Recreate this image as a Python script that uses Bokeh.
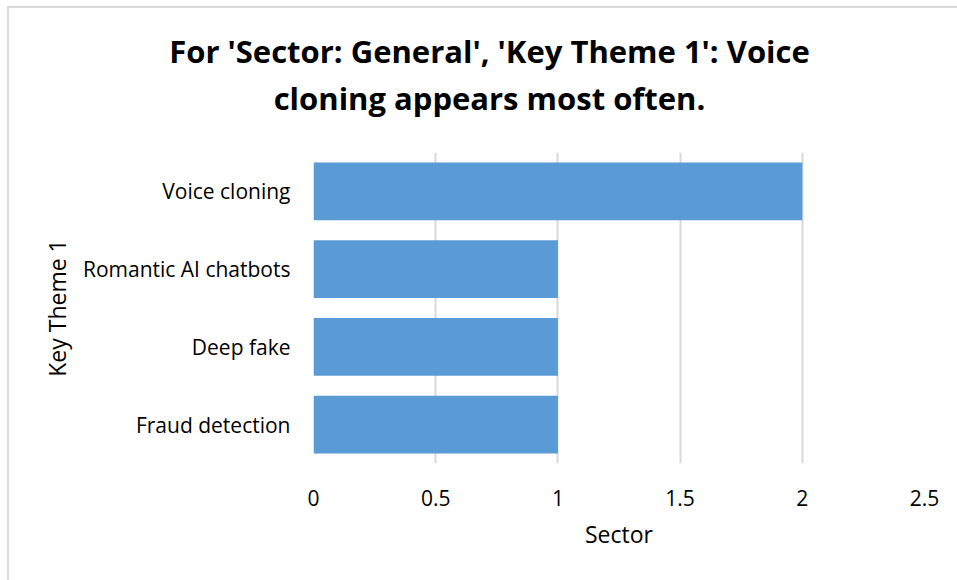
from bokeh.plotting import figure
from bokeh.layouts import column
from bokeh.models import Label, FactorRange, Range1d, FixedTicker, NumeralTickFormatter
from bokeh.embed import file_html
from bokeh.resources import INLINE

# ---- data ----
themes = ["Fraud detection", "Deep fake", "Romantic AI chatbots", "Voice cloning"]
counts = [1, 1, 1, 2]
x_ticks = [0, 0.5, 1, 1.5, 2, 2.5]
title_lines = ["For 'Sector: General', 'Key Theme 1': Voice", "cloning appears most often."]
x_title = "Sector"
y_title = "Key Theme 1"

FONT = "Open Sans"
BAR = "#5B9BD5"
GRID = "#d9d9d9"
TXT = "#000000"

W = 948
TH = 136
H = 572 - TH

# ---- title strip ----
t = figure(width=W, height=TH, output_backend="svg", toolbar_location=None,
           x_range=Range1d(0, W), y_range=Range1d(TH, 0),
           x_axis_location=None, y_axis_location=None,
           min_border=0, min_border_left=0, min_border_right=0,
           min_border_top=0, min_border_bottom=0)
t.frame_align = False
t.outline_line_color = None
t.xgrid.visible = False
t.ygrid.visible = False
for line, sy in zip(title_lines, [42, 89]):
    t.add_layout(Label(x=480, y=sy, text=line, text_font=FONT, text_font_size="31px",
                       text_font_style="bold", text_align="center",
                       text_baseline="middle", text_color=TXT))

# ---- chart ----
p = figure(width=W, height=H, output_backend="svg", toolbar_location=None,
           y_range=FactorRange(factors=themes, range_padding=0),
           x_range=Range1d(0, 2.5),
           min_border_left=304, min_border_right=33, min_border_top=8, min_border_bottom=117)
p.frame_align = False

p.hbar(y=themes, right=counts, left=0, height=0.74, color=BAR, line_color=None)

p.outline_line_color = None
p.background_fill_color = "white"
p.border_fill_color = "white"

p.xaxis.ticker = FixedTicker(ticks=x_ticks)
p.xaxis.formatter = NumeralTickFormatter(format="0.[0]")
for ax in (p.xaxis[0], p.yaxis[0]):
    ax.axis_line_color = None
    ax.major_tick_line_color = None
    ax.minor_tick_line_color = None
    ax.major_label_text_font = FONT
    ax.major_label_text_font_size = "21px"
    ax.major_label_text_color = TXT
    ax.axis_label_text_font = FONT
    ax.axis_label_text_font_size = "23px"
    ax.axis_label_text_font_style = "normal"
    ax.axis_label_text_color = TXT
p.xaxis.axis_label = x_title
p.yaxis.axis_label = y_title
p.xaxis.major_label_standoff = 20
p.xaxis.axis_label_standoff = 9
p.yaxis.major_label_standoff = 17
p.yaxis.axis_label_standoff = 7

p.xgrid.grid_line_color = GRID
p.xgrid.grid_line_width = 2
p.ygrid.grid_line_color = None

layout = column(t, p, spacing=0)
layout.styles = {"margin-left": "7px", "margin-top": "6px",
                 "border-left": "2px solid #d9d9d9", "border-top": "2px solid #d9d9d9"}

open("out.html", "w").write(file_html(layout, INLINE))
